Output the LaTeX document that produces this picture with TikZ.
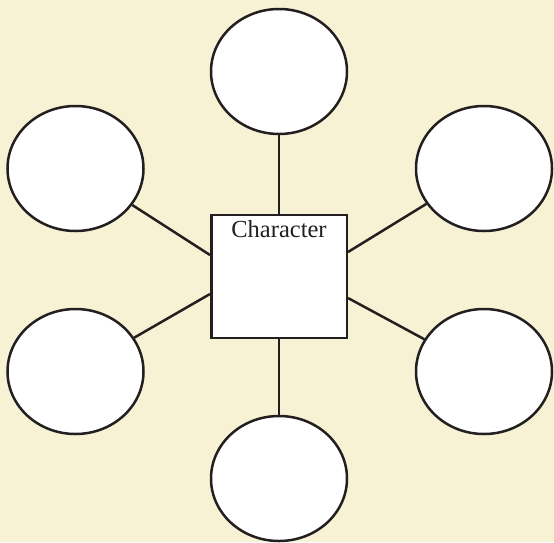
\documentclass[tikz,border=0pt]{standalone}
\usepackage{fontspec}
\setmainfont{Liberation Serif}
\usepackage{tikz}
\usetikzlibrary{shapes.geometric}

\definecolor{bgcream}{HTML}{F8F2D4}
\definecolor{inkgray}{HTML}{231F20}

\tikzset{
	bubble/.style={shape=ellipse, draw=inkgray, fill=white, line width=2.5pt,
		minimum width=136pt, minimum height=125pt, inner sep=0pt},
	charbox/.style={shape=rectangle, draw=inkgray, fill=white, line width=2.5pt,
		minimum width=135.5pt, minimum height=123pt, inner sep=0pt},
	spoke/.style={draw=inkgray, line width=2.5pt}
}

\begin{document}
\begin{tikzpicture}[x=1pt, y=-1pt]
	\fill[bgcream] (0,0) rectangle (554,542);
	\useasboundingbox (0,0) rectangle (554,542);

	\node[charbox] (char) at (279,276.5) {};
	\node[anchor=base, text=inkgray, font=\fontsize{24.5}{26}\selectfont, inner sep=0pt] (chartext) at (279,237) {Character};

	\node[bubble] (top) at (279,71.5) {};
	\node[bubble] (lefttop) at (75.5,168.5) {};
	\node[bubble] (righttop) at (484,168.5) {};
	\node[bubble] (leftbot) at (75.5,371.5) {};
	\node[bubble] (rightbot) at (484,371.5) {};
	\node[bubble] (bot) at (279,478.5) {};

	\path [spoke] (top) -- (char.north);
	\path [spoke] (bot) -- (char.south);
	\path [spoke] (lefttop) -- ([yshift=21.5pt]char.west);
	\path [spoke] (leftbot) -- ([yshift=-17.5pt]char.west);
	\path [spoke] (righttop) -- ([yshift=24.5pt]char.east);
	\path [spoke] (rightbot) -- ([yshift=-21.5pt]char.east);
\end{tikzpicture}
\end{document}
